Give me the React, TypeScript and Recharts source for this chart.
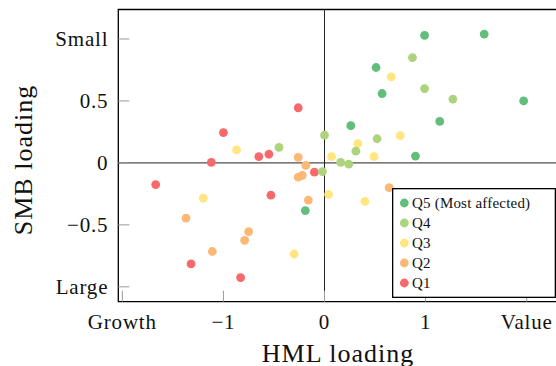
import React from 'react';
import {
  ScatterChart,
  Scatter,
  XAxis,
  YAxis,
  ReferenceLine,
  ReferenceArea,
  Legend,
} from 'recharts';

const FONT = 'Liberation Serif, DejaVu Serif, serif';

// Tick values and labels
const xTicks = [-2, -1, 0, 1, 2];
const xTickLabels = ['Growth', '\u22121', '0', '1', 'Value'];
const yTicks = [-1, -0.5, 0, 0.5, 1];
const yTickLabels = ['Large', '\u22120.5', '0', '0.5', 'Small'];

// Series values (HML loading = x, SMB loading = y)
const q5X = [0.99, 1.58, 0.51, 0.57, 1.97, 0.26, 1.14, 0.9, -0.19];
const q5Y = [1.03, 1.04, 0.77, 0.56, 0.5, 0.3, 0.335, 0.055, -0.385];

const q4X = [0.87, 0.99, 1.27, 0.0, 0.52, 0.31, 0.16, 0.24, -0.02, -0.45];
const q4Y = [0.85, 0.6, 0.515, 0.225, 0.195, 0.095, 0.005, -0.01, -0.07, 0.125];

const q3X = [0.66, 0.75, 0.33, 0.07, 0.49, 0.04, 0.4, -0.87, -1.2, -0.3];
const q3Y = [0.695, 0.22, 0.155, 0.05, 0.05, -0.255, -0.31, 0.105, -0.285, -0.735];

const q2X = [-0.26, -0.185, -0.26, -0.22, -0.16, -0.75, -0.79, -1.11, -1.37, 0.64];
const q2Y = [0.045, -0.02, -0.115, -0.1, -0.3, -0.555, -0.625, -0.715, -0.445, -0.2];

const q1X = [-0.26, -1.0, -0.65, -0.55, -1.12, -1.67, -0.53, -0.1, -1.32, -0.83];
const q1Y = [0.445, 0.245, 0.05, 0.07, 0.005, -0.175, -0.26, -0.075, -0.815, -0.925];

const seriesNames = ['Q5 (Most affected)', 'Q4', 'Q3', 'Q2', 'Q1'];
const seriesColors = ['#63BE7B', '#ADD47D', '#FFE680', '#FDB874', '#F8696B'];
const seriesXs = [q5X, q4X, q3X, q2X, q1X];
const seriesYs = [q5Y, q4Y, q3Y, q2Y, q1Y];

const seriesData = seriesXs.map((xs, s) =>
  xs.map((x, i) => ({ x, y: seriesYs[s][i] }))
);

const X_DOMAIN: [number, number] = [-2.04, 2.31];
const Y_DOMAIN: [number, number] = [-1.12, 1.238];

const textStyle = (size: number, spacing: number): React.CSSProperties => ({
  fontFamily: FONT,
  fontSize: size,
  letterSpacing: spacing,
  fill: '#111',
});

const XTick = (props: any) => {
  const { x, y, payload } = props;
  const i = xTicks.indexOf(payload.value);
  return (
    <g>
      <line x1={x} y1={y} x2={x} y2={y - 11} stroke="#9a9a9a" strokeWidth={1} />
      <text x={x} y={y + 27} textAnchor="middle" style={textStyle(21, 0.8)}>
        {xTickLabels[i]}
      </text>
    </g>
  );
};

const YTick = (props: any) => {
  const { x, y, payload } = props;
  const i = yTicks.indexOf(payload.value);
  return (
    <g>
      <line x1={x} y1={y} x2={x + 11} y2={y} stroke="#9a9a9a" strokeWidth={1} />
      <text x={x - 10} y={y + 7} textAnchor="end" style={textStyle(21, 0.8)}>
        {yTickLabels[i]}
      </text>
    </g>
  );
};

const XTitle = () => (
  <text x={338} y={362} textAnchor="middle" style={textStyle(26, 1)}>
    HML loading
  </text>
);

const YTitle = () => (
  <text
    transform="translate(32,160) rotate(-90)"
    textAnchor="middle"
    style={textStyle(26, 1)}
  >
    SMB loading
  </text>
);

const renderLegend = () => (
  <svg width={164} height={110} style={{ display: 'block' }}>
    <rect x={0.65} y={0.65} width={162.7} height={108.7} fill="#fff" stroke="#000" strokeWidth={1.3} />
    {seriesNames.map((name, i) => (
      <g key={name}>
        <circle cx={12.3} cy={15 + 20 * i} r={4.4} fill={seriesColors[i]} />
        <text x={20} y={20 + 20 * i} style={textStyle(15, 0.2)}>
          {name}
        </text>
      </g>
    ))}
  </svg>
);

const makeShape = (color: string) => (props: any) => (
  <circle cx={props.cx} cy={props.cy} r={4.4} fill={color} />
);

export default function App() {
  const order = [4, 3, 2, 1, 0];
  return (
    <div
      style={{
        position: 'absolute',
        left: 0,
        top: 0,
        width: 556,
        height: 366,
        overflow: 'hidden',
        background: '#fff',
      }}
    >
      <ScatterChart
        width={570}
        height={366}
        margin={{ top: 9.5, right: 12, bottom: 14, left: 8 }}
      >
        <XAxis
          type="number"
          dataKey="x"
          domain={X_DOMAIN}
          ticks={xTicks}
          allowDataOverflow
          axisLine={false}
          tickLine={false}
          tickSize={0}
          tickMargin={0}
          height={50.3}
          tick={<XTick />}
          interval={0}
          label={XTitle}
        />
        <YAxis
          type="number"
          dataKey="y"
          domain={Y_DOMAIN}
          ticks={yTicks}
          allowDataOverflow
          axisLine={false}
          tickLine={false}
          tickSize={0}
          tickMargin={0}
          width={110.3}
          tick={<YTick />}
          interval={0}
          label={YTitle}
        />
        <ReferenceLine x={0} stroke="#222" strokeWidth={1} />
        <ReferenceLine y={0} stroke="#222" strokeWidth={1} />
        {order.map((s) => (
          <Scatter
            key={seriesNames[s]}
            name={seriesNames[s]}
            data={seriesData[s]}
            fill={seriesColors[s]}
            shape={makeShape(seriesColors[s])}
            isAnimationActive={false}
          />
        ))}
        <ReferenceArea
          x1={X_DOMAIN[0]}
          x2={X_DOMAIN[1]}
          y1={Y_DOMAIN[0]}
          y2={Y_DOMAIN[1]}
          fill="none"
          fillOpacity={0}
          stroke="#000"
          strokeWidth={1.3}
          ifOverflow="visible"
        />
        <Legend
          layout="vertical"
          align="center"
          verticalAlign="middle"
          content={renderLegend}
          wrapperStyle={{ left: 392, top: 188, width: 164, height: 110 }}
        />
      </ScatterChart>
    </div>
  );
}
